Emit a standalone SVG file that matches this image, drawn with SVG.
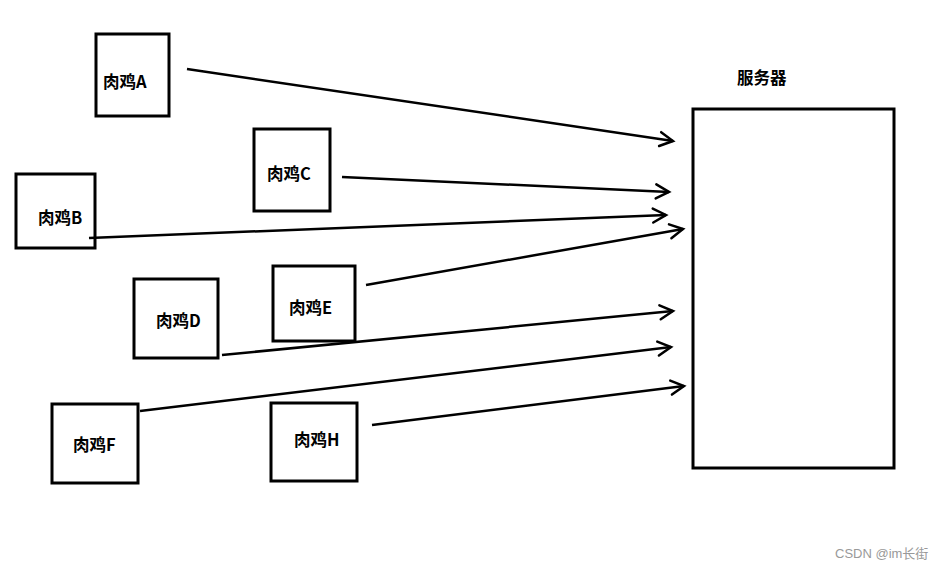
<svg xmlns="http://www.w3.org/2000/svg" width="943" height="569" viewBox="0 0 943 569">
  <style>
    .box { fill: #fff; stroke: #000; stroke-width: 3; }
    .lbl { font-family: "Noto Sans CJK SC", "Microsoft YaHei", sans-serif; font-weight: bold; font-size: 16.5px; fill: #000; }
    .edge { stroke: #000; stroke-width: 2.5; fill: none; marker-end: url(#arr); }
    .wm { font-family: "Liberation Sans", "Noto Sans CJK SC", sans-serif; font-size: 13px; fill: #999; }
  </style>
  <defs>
    <marker id="arr" markerUnits="userSpaceOnUse" markerWidth="20" markerHeight="20" viewBox="-16 -10 20 20" refX="0" refY="0" orient="auto">
      <path d="M-13,-7 L0,0 L-13,7" fill="none" stroke="#000" stroke-width="2.5" stroke-linecap="round"/>
    </marker>
  </defs>
  <rect width="943" height="569" fill="#fff"/>
  <g id="server">
    <rect class="box" x="693" y="109" width="201" height="359"/>
    <text class="lbl" x="737" y="84">服务器</text>
  </g>
  <g id="nodeA">
    <rect class="box" x="96" y="34" width="73" height="82"/>
    <text class="lbl" x="103" y="88">肉鸡A</text>
  </g>
  <g id="nodeB">
    <rect class="box" x="16" y="174" width="79" height="74"/>
    <text class="lbl" x="38" y="224">肉鸡B</text>
  </g>
  <g id="nodeC">
    <rect class="box" x="254" y="129" width="76" height="82"/>
    <text class="lbl" x="267" y="180">肉鸡C</text>
  </g>
  <g id="nodeD">
    <rect class="box" x="134" y="279" width="84" height="79"/>
    <text class="lbl" x="156" y="327">肉鸡D</text>
  </g>
  <g id="nodeE">
    <rect class="box" x="273" y="266" width="82" height="75"/>
    <text class="lbl" x="289" y="314">肉鸡E</text>
  </g>
  <g id="nodeF">
    <rect class="box" x="52" y="404" width="86" height="79"/>
    <text class="lbl" x="73" y="451">肉鸡F</text>
  </g>
  <g id="nodeH">
    <rect class="box" x="271" y="403" width="86" height="78"/>
    <text class="lbl" x="294" y="446">肉鸡H</text>
  </g>
  <g id="connectors">
    <line class="edge" x1="187" y1="69" x2="673" y2="141"/>
    <line class="edge" x1="342" y1="177" x2="669" y2="192"/>
    <line class="edge" x1="89" y1="238" x2="666" y2="215"/>
    <line class="edge" x1="366" y1="285" x2="683" y2="229"/>
    <line class="edge" x1="222" y1="355" x2="673" y2="311"/>
    <line class="edge" x1="140" y1="411" x2="671" y2="347"/>
    <line class="edge" x1="372" y1="425" x2="684" y2="386"/>
  </g>
  <text class="wm" x="835" y="558">CSDN @im长街</text>
</svg>
